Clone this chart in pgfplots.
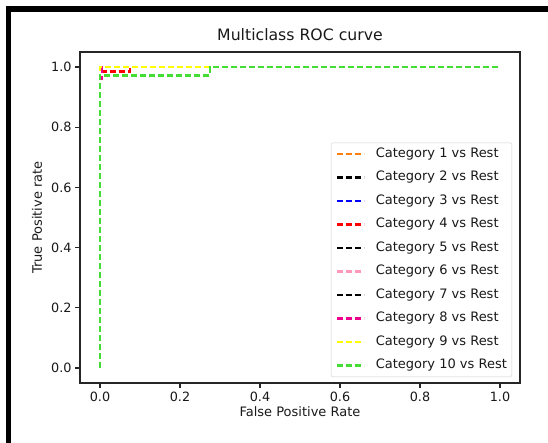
\documentclass[border=0pt]{standalone}
\usepackage{pgfplots}
\pgfplotsset{compat=1.18}
\usepackage{fontspec}
\setmainfont{DejaVu Sans}
\definecolor{c1}{HTML}{FF7F0E}
\definecolor{c6}{HTML}{FF99BB}
\definecolor{c9}{HTML}{FFFF00}
\definecolor{c10}{HTML}{44DD33}
\tikzset{rocl/.style={line width=2.7pt, dash pattern=on 6pt off 3pt}}
\begin{document}
\begin{tikzpicture}[x=1pt,y=1pt]
\useasboundingbox (0,0) rectangle (548,443);
\fill[black] (6,0) rectangle (11,437);
\fill[black] (6,431) rectangle (548,437);
\begin{axis}[
  at={(80pt,60pt)}, anchor=south west,
  scale only axis, width=440pt, height=331pt,
  xmin=-0.05, xmax=1.05, ymin=-0.05, ymax=1.05,
  xtick={0,0.2,0.4,0.6,0.8,1.0}, ytick={0,0.2,0.4,0.6,0.8,1.0},
  tick align=outside, major tick length=5pt,
  xtick pos=bottom, ytick pos=left,
  tick style={black!85, line width=1.2pt},
  axis line style={black!85, line width=1.4pt},
  /pgf/number format/assume math mode=true,
  /pgf/number format/fixed, /pgf/number format/fixed zerofill,
  /pgf/number format/precision=1,
  tick label style={font=\fontsize{12.8}{12.8}\selectfont, text=black!90},
  title={Multiclass ROC curve},
  title style={font=\fontsize{15.7}{15.7}\selectfont, at={(axis description cs:0.5,1)}, anchor=base, yshift=5pt, inner sep=0pt, text=black!90},
  xlabel={False Positive Rate},
  xlabel style={font=\fontsize{13}{13}\selectfont, at={(axis description cs:0.5,0)}, anchor=base, yshift=-34pt, inner sep=0pt, text=black!90},
  ylabel={True Positive rate},
  ylabel style={font=\fontsize{13}{13}\selectfont, at={(axis description cs:-0.0864,0.5)}, anchor=base, inner sep=0pt, text=black!90},
  legend cell align=left,
  legend image code/.code={\draw[#1] (0pt,0pt) -- (27pt,0pt);},
  legend style={at={(0.982,0.018)}, anchor=south east, draw=black!18, rounded corners=2pt, fill=white, inner sep=5pt,
    font=\fontsize{13}{13}\selectfont, row sep=11pt,
    nodes={inner sep=0pt, text height=9.5pt, text depth=3pt, text=black!90}},
]
\addplot[c1, rocl] coordinates {(0,0) (0,1) (1,1)};
\addlegendentry{\hspace{10pt}Category 1 vs Rest}
\addplot[black, rocl] coordinates {(0,0) (0,1) (1,1)};
\addlegendentry{\hspace{10pt}Category 2 vs Rest}
\addplot[blue, rocl] coordinates {(0,0) (0,1) (1,1)};
\addlegendentry{\hspace{10pt}Category 3 vs Rest}
\addplot[red, rocl] coordinates {(0,0) (0,0.985) (0.075,0.985) (0.075,1) (1,1)};
\addlegendentry{\hspace{10pt}Category 4 vs Rest}
\addplot[black, rocl] coordinates {(0,0) (0,1) (1,1)};
\addlegendentry{\hspace{10pt}Category 5 vs Rest}
\addplot[c6, rocl] coordinates {(0,0) (0,1) (1,1)};
\addlegendentry{\hspace{10pt}Category 6 vs Rest}
\addplot[black, rocl] coordinates {(0,0) (0,1) (1,1)};
\addlegendentry{\hspace{10pt}Category 7 vs Rest}
\addplot[magenta, rocl] coordinates {(0,0) (0,0.96) (0.005,0.96) (0.005,1) (1,1)};
\addlegendentry{\hspace{10pt}Category 8 vs Rest}
\addplot[c9, rocl] coordinates {(0,0) (0,1) (1,1)};
\addlegendentry{\hspace{10pt}Category 9 vs Rest}
\addplot[c10, rocl] coordinates {(0,0) (0,0.973) (0.275,0.973) (0.275,1) (1,1)};
\addlegendentry{\hspace{10pt}Category 10 vs Rest}
\end{axis}
\end{tikzpicture}
\end{document}
